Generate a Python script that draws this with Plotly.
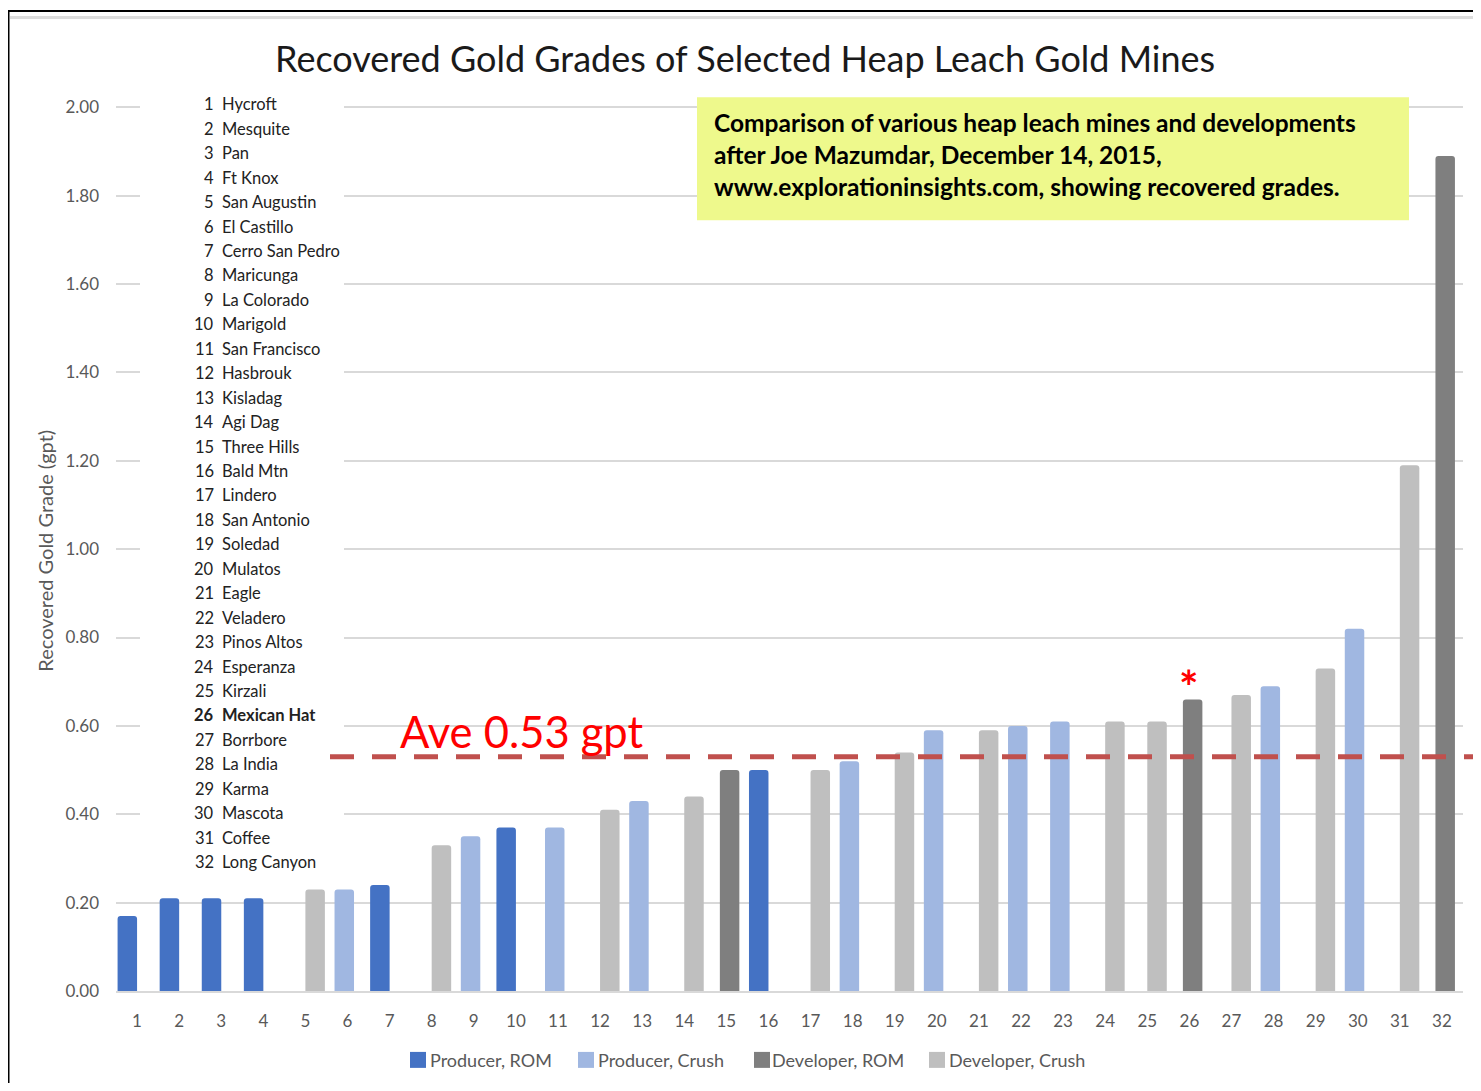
import plotly.graph_objects as go

# ---------------- data ----------------
categories = list(range(1, 33))
mine_names = ["Hycroft", "Mesquite", "Pan", "Ft Knox", "San Augustin", "El Castillo",
              "Cerro San Pedro", "Maricunga", "La Colorado", "Marigold", "San Francisco",
              "Hasbrouk", "Kisladag", "Agi Dag", "Three Hills", "Bald Mtn", "Lindero",
              "San Antonio", "Soledad", "Mulatos", "Eagle", "Veladero", "Pinos Altos",
              "Esperanza", "Kirzali", "Mexican Hat", "Borrbore", "La India", "Karma",
              "Mascota", "Coffee", "Long Canyon"]
grades = [0.17, 0.21, 0.21, 0.21, 0.23, 0.23, 0.24, 0.33, 0.35, 0.37, 0.37, 0.41,
          0.43, 0.44, 0.50, 0.50, 0.50, 0.52, 0.54, 0.59, 0.59, 0.60, 0.61, 0.61,
          0.61, 0.66, 0.67, 0.69, 0.73, 0.82, 1.19, 1.89]
PR, PC, DR, DC = "Producer, ROM", "Producer, Crush", "Developer, ROM", "Developer, Crush"
mine_type = [PR, PR, PR, PR, DC, PC, PR, DC, PC, PR, PC, DC, PC, DC, DR, PR,
             DC, PC, DC, PC, DC, PC, PC, DC, DC, DR, DC, PC, DC, PC, DC, DR]
series_names = [PR, PC, DR, DC]
series_colors = ["#4472C4", "#A0B7E1", "#7F7F7F", "#BFBFBF"]
avg_grade = 0.53
highlight_mine = 26
y_ticks = [0.0, 0.2, 0.4, 0.6, 0.8, 1.0, 1.2, 1.4, 1.6, 1.8, 2.0]

# ---------------- geometry helpers ----------------
W, H = 1465, 1075
L, T, PW, PH = 108, 98, 1347, 885
R, B = W - L - PW, H - T - PH
YMAX = 2.003


def fx(xp):  # page x -> paper
    return (xp - 8 - L) / PW


def fy(yp):  # page y -> paper
    return (991 - yp) / PH / YMAX * 2.0


FONT = "Lato"
GRAY = "#595959"

fig = go.Figure()

bar_w = 0.463
step = 0.154
for i, (name, col) in enumerate(zip(series_names, series_colors)):
    xs = [c for c, t in zip(categories, mine_type) if t == name]
    ys = [g for g, t in zip(grades, mine_type) if t == name]
    center = (i - 1.5) * step
    fig.add_trace(go.Bar(
        x=xs, y=ys, name=name, width=bar_w, offset=center - bar_w / 2,
        marker=dict(color=col, line=dict(width=0), cornerradius=3),
        showlegend=False,
    ))

shapes = []
annotations = []

# border lines
shapes.append(dict(type="line", xref="paper", yref="paper", x0=fx(8), x1=fx(1481),
                   y0=fy(9.5), y1=fy(9.5), line=dict(color="black", width=2), layer="above"))
shapes.append(dict(type="line", xref="paper", yref="paper", x0=fx(8), x1=fx(8),
                   y0=fy(9), y1=fy(1091), line=dict(color="black", width=3), layer="above"))
shapes.append(dict(type="line", xref="paper", yref="paper", x0=fx(10), x1=fx(1481),
                   y0=fy(16), y1=fy(16), line=dict(color="#DDDDDD", width=3), layer="above"))

# white label box (covers gridlines)
shapes.append(dict(type="rect", xref="paper", yref="paper", x0=fx(140), x1=fx(344),
                   y0=fy(92), y1=fy(878), fillcolor="white", line=dict(width=0), layer="above"))
# yellow note box
shapes.append(dict(type="rect", xref="paper", yref="paper", x0=fx(697), x1=fx(1409),
                   y0=fy(96), y1=fy(219), fillcolor="#EEF98C", line=dict(width=0), layer="above"))
# average dashed line
shapes.append(dict(type="line", xref="paper", yref="y", x0=fx(330), x1=fx(1490),
                   y0=avg_grade, y1=avg_grade,
                   line=dict(color="#C0504D", width=5, dash="24px,18px"), layer="above"))

# title
annotations.append(dict(text="Recovered Gold Grades of Selected Heap Leach Gold Mines",
                        xref="paper", yref="paper", x=fx(745), y=fy(57), xanchor="center",
                        yanchor="middle", showarrow=False,
                        font=dict(family=FONT, size=36, color="#1a1a1a")))
# y axis title
annotations.append(dict(text="Recovered Gold Grade (gpt)", xref="paper", yref="paper",
                        x=fx(45), y=fy(550), textangle=-90, xanchor="center", yanchor="middle",
                        showarrow=False, font=dict(family=FONT, size=20, color=GRAY)))

# mine label list
for k, (c, nm) in enumerate(zip(categories, mine_names)):
    yp = 103 + k * 24.48
    bold = (c == highlight_mine)
    num = f"<b>{c}</b>" if bold else str(c)
    txt = f"<b>{nm}</b>" if bold else nm
    annotations.append(dict(text=num, xref="paper", yref="paper", x=fx(215.5), y=fy(yp),
                            xanchor="right", yanchor="middle", showarrow=False,
                            font=dict(family=FONT, size=16.5, color="#222222")))
    annotations.append(dict(text=txt, xref="paper", yref="paper", x=fx(220), y=fy(yp),
                            xanchor="left", yanchor="middle", showarrow=False,
                            font=dict(family=FONT, size=16.5, color="#222222")))

# yellow box text
note_lines = ["Comparison of various heap leach mines and developments",
              "after Joe Mazumdar, December 14, 2015,",
              "www.explorationinsights.com, showing recovered grades."]
for k, ln in enumerate(note_lines):
    annotations.append(dict(text=f"<b>{ln}</b>", xref="paper", yref="paper", x=fx(712),
                            y=fy(121 + k * 32), xanchor="left", yanchor="middle",
                            showarrow=False, font=dict(family=FONT, size=24.5, color="black")))

# average label
annotations.append(dict(text=f"Ave {avg_grade:.2f} gpt", xref="paper", yref="paper", x=fx(398),
                        y=fy(731), xanchor="left", yanchor="middle", showarrow=False,
                        font=dict(family=FONT, size=43.5, color="#FF0000")))
# asterisk above highlighted mine
annotations.append(dict(text="<b>*</b>", xref="x", yref="paper",
                        x=highlight_mine - 0.02, y=fy(686), xanchor="center", yanchor="middle",
                        showarrow=False, font=dict(family=FONT, size=46, color="#FF0000")))

# manual legend
leg_sq = [418, 586, 762, 937]
leg_tx = [428, 596, 770, 947]
for name, col, sx, tx in zip(series_names, series_colors, leg_sq, leg_tx):
    shapes.append(dict(type="rect", xref="paper", yref="paper", x0=fx(sx - 8), x1=fx(sx + 8),
                       y0=fy(1068), y1=fy(1052), fillcolor=col, line=dict(width=0), layer="above"))
    annotations.append(dict(text=name, xref="paper", yref="paper", x=fx(tx), y=fy(1060),
                            xanchor="left", yanchor="middle", showarrow=False,
                            font=dict(family=FONT, size=18, color=GRAY)))

fig.update_layout(
    width=W, height=H,
    margin=dict(l=L, r=R, t=T, b=B, pad=0),
    paper_bgcolor="white", plot_bgcolor="white",
    barmode="overlay",
    shapes=shapes, annotations=annotations,
    showlegend=False,
    font=dict(family=FONT, color=GRAY),
)
fig.update_xaxes(range=[0.5, 32.5], tickmode="array", tickvals=categories,
                 ticktext=[str(c) for c in categories], showgrid=False,
                 showline=True, linecolor="#D9D9D9", linewidth=2, ticks="",
                 ticklabelstandoff=14, tickfont=dict(family=FONT, size=17, color=GRAY),
                 zeroline=False)
fig.update_yaxes(range=[0, YMAX], tickmode="array", tickvals=y_ticks,
                 ticktext=[f"{v:.2f}" for v in y_ticks], showgrid=True,
                 gridcolor="#D9D9D9", gridwidth=1.5, zeroline=False, showline=False,
                 ticks="", ticklabelstandoff=16,
                 tickfont=dict(family=FONT, size=17, color=GRAY))

fig.write_html("out.html")
